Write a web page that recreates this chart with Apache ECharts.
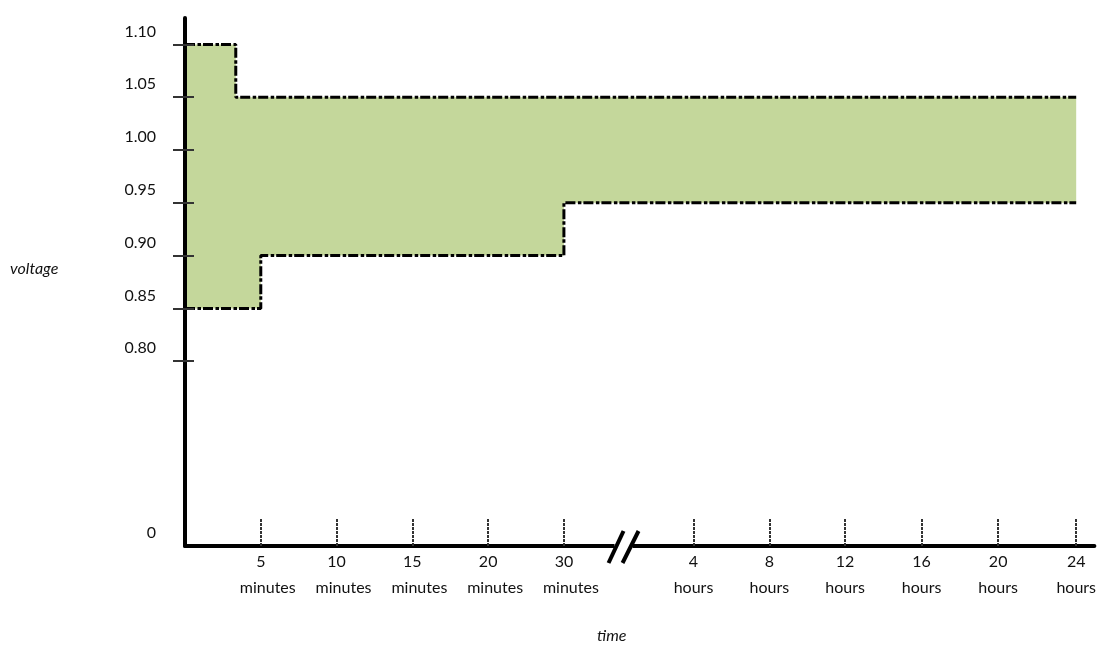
<!DOCTYPE html>
<html>
<head>
<meta charset="utf-8">
<script src="https://cdn.jsdelivr.net/npm/echarts@6/dist/echarts.min.js"></script>
<style>html,body{margin:0;padding:0;background:#fff}#c{width:1099px;height:646px}</style>
</head>
<body>
<div id="c"></div>
<script>
// ---- data ----
const yTicks = [0.80, 0.85, 0.90, 0.95, 1.00, 1.05, 1.10];
const yMin = 0.625, yMax = 1.125;           // axis bottom is labelled "0" (broken axis)
const yZeroLabel = '0';
const xTickPos = [1, 2, 3, 4, 5, 6.71, 7.71, 8.71, 9.72, 10.73, 11.76];
const xTickNum = ['5', '10', '15', '20', '30', '4', '8', '12', '16', '20', '24'];
const xTickUnit = ['minutes', 'minutes', 'minutes', 'minutes', 'minutes', 'hours', 'hours', 'hours', 'hours', 'hours', 'hours'];
const upperX = [0, 0.67, 11.76];
const upperV = [1.10, 1.05, 1.05];
const lowerX = [0, 1, 5, 11.76];
const lowerV = [0.85, 0.90, 0.95, 0.95];
const breakAt = 5.8;

// ---- chart ----
const FONT = 'Lato';
const GREEN = '#C4D79B';
const DASH = [10, 2.5, 3.5, 2];

function stepCorners(xs, vs) {
  const out = [];
  for (let i = 0; i < xs.length; i++) {
    out.push([xs[i], vs[i]]);
    if (i + 1 < xs.length) out.push([xs[i + 1], vs[i]]);
  }
  return out;
}

const chart = echarts.init(document.getElementById('c'), null, { renderer: 'canvas' });
const labelStyle = { fontFamily: FONT, fontSize: 16, color: '#111', lineHeight: 26 };
const names = [
  { type: 'text', left: 10, top: 261, style: { text: 'voltage', fontFamily: FONT, fontStyle: 'italic', fontSize: 16, fill: '#111' } },
  { type: 'text', left: 597, top: 628, style: { text: 'time', fontFamily: FONT, fontStyle: 'italic', fontSize: 16, fill: '#111' } }
];

const option = {
  animation: false,
  backgroundColor: '#fff',
  grid: { left: 185, right: 2, top: 18, bottom: 100 },
  xAxis: {
    type: 'value', min: 0, max: 12, z: 10,
    splitLine: { show: false },
    axisLine: { show: true, lineStyle: { color: '#000', width: 4 } },
    axisTick: { show: true, inside: true, length: 28, customValues: xTickPos,
      lineStyle: { color: '#333', width: 2, type: [3, 1] } },
    axisLabel: {
      show: true, margin: 3, customValues: xTickPos,
      formatter: function (v) {
        const i = xTickPos.findIndex(p => Math.abs(p - v) < 1e-6);
        if (i < 0) return '';
        const u = xTickUnit[i] === 'minutes' ? 'm' : 'h';
        return '{n|' + xTickNum[i] + '}\n{' + u + '|' + xTickUnit[i] + '}';
      },
      rich: {
        n: Object.assign({}, labelStyle),
        m: Object.assign({}, labelStyle, { padding: [0, 0, 0, 14] }),
        h: Object.assign({}, labelStyle)
      }
    }
  },
  yAxis: [{
    type: 'value', min: yMin, max: yMax, z: 10,
    splitLine: { show: false },
    axisLine: { show: true, lineStyle: { color: '#000', width: 4 } },
    axisTick: { show: true, inside: false, length: 12, customValues: yTicks,
      lineStyle: { color: '#333', width: 2 } },
    axisLabel: {
      show: true, margin: 29, customValues: [yMin].concat(yTicks),
      fontFamily: FONT, fontSize: 16, color: '#111',
      verticalAlign: 'bottom', lineHeight: 16, padding: [0, 0, 5, 0],
      formatter: function (v) { return Math.abs(v - yMin) < 1e-6 ? yZeroLabel : v.toFixed(2); }
    }
  }, {
    type: 'value', min: yMin, max: yMax, z: 10, position: 'left',
    splitLine: { show: false },
    axisLine: { show: false },
    axisTick: { show: true, inside: true, length: 9, customValues: yTicks,
      lineStyle: { color: '#333', width: 2 } },
    axisLabel: { show: false }
  }],
  series: [{
    type: 'custom', z: 1, silent: true,
    data: [[0, yMin]],
    renderItem: function (params, api) {
      const up = stepCorners(upperX, upperV);
      const lo = stepCorners(lowerX, lowerV).reverse();
      const pts = up.concat(lo).map(p => api.coord(p));
      return { type: 'polygon', shape: { points: pts }, style: { fill: GREEN } };
    }
  }, {
    type: 'line', z: 3, step: 'end', showSymbol: false, silent: true,
    data: upperX.map((x, i) => [x, upperV[i]]),
    lineStyle: { color: '#000', width: 3, type: DASH }
  }, {
    type: 'line', z: 3, step: 'end', showSymbol: false, silent: true,
    data: lowerX.map((x, i) => [x, lowerV[i]]),
    lineStyle: { color: '#000', width: 3, type: DASH }
  }],
  graphic: names
};
chart.setOption(option);

// axis break marks on the x axis
const c0 = chart.convertToPixel({ gridIndex: 0 }, [breakAt, yMin]);
const cx = c0[0], cy = c0[1];
chart.setOption({
  graphic: names.concat([
    { type: 'rect', z: 100, shape: { x: cx - 10, y: cy - 4, width: 18, height: 8 }, style: { fill: '#fff' } },
    { type: 'line', z: 101, shape: { x1: cx - 16, y1: cy + 17, x2: cx - 1, y2: cy - 15 }, style: { stroke: '#000', lineWidth: 4 } },
    { type: 'line', z: 101, shape: { x1: cx - 2, y1: cy + 17, x2: cx + 14, y2: cy - 15 }, style: { stroke: '#000', lineWidth: 4 } }
  ])
});
</script>
</body>
</html>
